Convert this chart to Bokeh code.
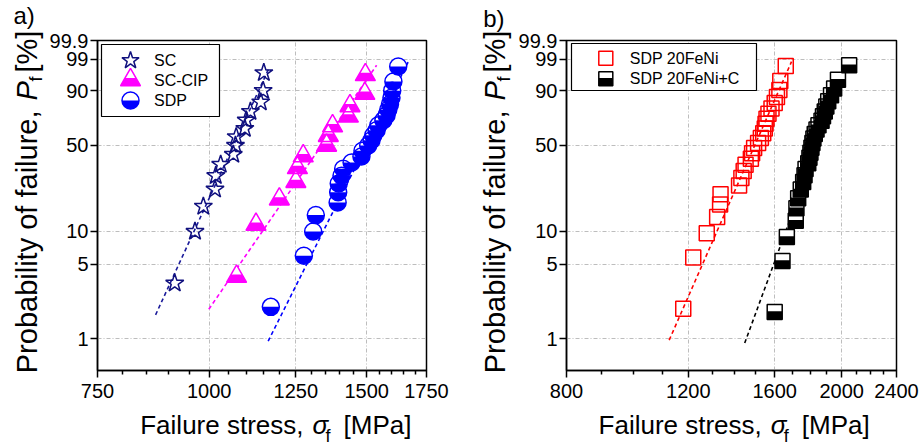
import numpy as np
from bokeh.plotting import figure
from bokeh.models import Range1d, LinearScale, FixedTicker, BasicTickFormatter, Label
from bokeh.layouts import row, column
from bokeh.embed import file_html
from bokeh.resources import INLINE
from bokeh.core.properties import value

FONT = "Liberation Sans"

# ---------------- data: panel a ----------------
sc_stress = [915, 964, 985, 1015, 1017, 1030, 1064, 1070, 1072, 1096, 1100, 1112, 1142, 1149, 1151]
sc_prob = [3.33, 10.0, 16.67, 23.33, 30.0, 36.67, 43.33, 50.0, 56.67, 63.33, 70.0, 76.67, 83.33, 90.0, 96.67]
cip_stress = [1073, 1128, 1198, 1250, 1255, 1274, 1353, 1359, 1374, 1431, 1437, 1493, 1495]
cip_prob = [3.85, 11.54, 19.23, 26.92, 34.62, 42.31, 50.0, 57.69, 65.38, 73.08, 80.77, 88.46, 96.15]
sdp_stress = [1172, 1276, 1307, 1316, 1392, 1394, 1396, 1406, 1412, 1443, 1480, 1484, 1506,
              1519, 1526, 1539, 1546, 1566, 1579, 1586, 1593, 1599, 1602, 1607, 1627]
sdp_prob = [2, 6, 10, 14, 18, 22, 26, 30, 34, 38, 42, 46, 50, 54, 58, 62, 66, 70, 74, 78, 82, 86, 90, 94, 98]
sc_fit_stress = [871, 1165]
sc_fit_prob = [1.68, 97.5]
cip_fit_stress = [999, 1539]
cip_fit_prob = [1.9, 98.2]
sdp_fit_stress = [1164, 1670]
sdp_fit_prob = [0.95, 98.7]
legend_a = ["SC", "SC-CIP", "SDP"]

# ---------------- data: panel b ----------------
fe_stress = [1180, 1220, 1276, 1321, 1334, 1336, 1421, 1432, 1443, 1452, 1478, 1484, 1494,
             1514, 1528, 1540, 1548, 1552, 1557, 1567, 1583, 1600, 1612, 1625, 1630, 1660]
fe_prob = [1.92, 5.77, 9.62, 13.46, 17.31, 21.15, 25.0, 28.85, 32.69, 36.54, 40.38, 44.23, 48.08,
           51.92, 55.77, 59.62, 63.46, 67.31, 71.15, 75.0, 78.85, 82.69, 86.54, 90.38, 94.23, 98.08]
fec_stress = [1600, 1642, 1666, 1716, 1720, 1730, 1745, 1759, 1767, 1773, 1789, 1796, 1802, 1808,
              1814, 1820, 1828, 1839, 1851, 1870, 1879, 1890, 1900, 1912, 1930, 1950, 1975, 2050]
fec_prob = [1.79, 5.36, 8.93, 12.5, 16.07, 19.64, 23.21, 26.79, 30.36, 33.93, 37.5, 41.07, 44.64, 48.21,
            51.79, 55.36, 58.93, 62.5, 66.07, 69.64, 73.21, 76.79, 80.36, 83.93, 87.5, 91.07, 94.64, 98.21]
fe_fit_stress = [1126, 1692]
fe_fit_prob = [0.97, 98.7]
fec_fit_stress = [1448, 2043]
fec_fit_prob = [0.91, 98.7]
legend_b = ["SDP 20FeNi", "SDP 20FeNi+C"]

# ---------------- axes ----------------
y_tick_values = [1, 5, 10, 50, 90, 99, 99.9]
y_tick_labels = ["1", "5", "10", "50", "90", "99", "99.9"]
xa_ticks = [750, 1000, 1250, 1500, 1750]
xa_minor = [800, 850, 900, 950, 1050, 1100, 1150, 1200, 1300, 1350, 1400, 1450, 1550, 1600, 1650, 1700]
xb_ticks = [800, 1200, 1600, 2000, 2400]
xb_minor = [900, 1000, 1100, 1300, 1400, 1500, 1700, 1800, 1900, 2100, 2200, 2300]


def W(p):
    return np.log(-np.log(1.0 - np.asarray(p, dtype=float) / 100.0))


Y0 = float(W(0.5))
Y1 = float(W(99.9))
FH = 330
PPU = FH / (Y1 - Y0)
TOTAL_H = 447
MAIN_TOP, MAIN_BOTTOM = 40, 37
XLAB_H = TOTAL_H - (MAIN_TOP + FH + MAIN_BOTTOM)
MID = 0.3465   # distance (in em) from the text-box centre down to the baseline

# panel geometry (left border, frame width, right border)
A_GEOM = (50, 329, 49)
B_GEOM = (51, 330, 27)
YLAB_A_W, YLAB_B_W = 46, 40


def panel(x_lo, x_hi, xticks, xminor, geom):
    bl, fw, br = geom
    p = figure(x_axis_type="log", x_range=Range1d(x_lo, x_hi), y_range=Range1d(Y0, Y1),
               frame_width=fw, frame_height=FH, min_border_left=bl, min_border_right=br,
               min_border_top=MAIN_TOP, min_border_bottom=MAIN_BOTTOM, toolbar_location=None,
               output_backend="svg", background_fill_color="white", border_fill_color="white")
    p.extra_x_ranges = {"px": Range1d(0, fw)}
    p.extra_y_ranges = {"px": Range1d(0, FH)}
    p.extra_x_scales = {"px": LinearScale()}
    p.extra_y_scales = {"px": LinearScale()}
    p.outline_line_color = "black"
    p.outline_line_width = 1.5
    p.outline_line_alpha = 1.0
    xa = p.xaxis[0]
    ya = p.yaxis[0]
    xa.ticker = FixedTicker(ticks=xticks, minor_ticks=xminor)
    xa.formatter = BasicTickFormatter(use_scientific=False)
    yt = [float(v) for v in W(y_tick_values)]
    ya.ticker = FixedTicker(ticks=yt, minor_ticks=[])
    ya.major_label_overrides = {t: lab for t, lab in zip(yt, y_tick_labels)}
    for ax in (xa, ya):
        ax.axis_line_width = 1.5
        ax.axis_line_color = "black"
        ax.major_tick_line_width = 1.5
        ax.major_tick_line_color = "black"
        ax.minor_tick_line_width = 1.5
        ax.minor_tick_line_color = "black"
        ax.major_tick_in = 0
        ax.major_tick_out = 7
        ax.minor_tick_in = 0
        ax.minor_tick_out = 4
        ax.major_label_text_font = FONT
        ax.major_label_text_font_size = "20px"
        ax.major_label_text_color = "black"
    ya.minor_tick_line_color = None
    xa.major_label_standoff = 6
    ya.major_label_standoff = 2
    for g in (p.xgrid[0], p.ygrid[0]):
        g.grid_line_color = "#bdbdbd"
        g.grid_line_dash = "4 2 1 2"
        g.grid_line_width = 1
    return p


def label_fig(w, h):
    # plain text strip; frame covers the whole figure, coordinates = pixels
    f = figure(width=w, height=h, x_range=Range1d(0, w), y_range=Range1d(0, h),
               min_border=0, toolbar_location=None, output_backend="svg",
               x_axis_location=None, y_axis_location=None,
               background_fill_color="white", border_fill_color="white")
    f.outline_line_color = None
    f.grid.visible = False
    return f


def xlabel_fig(geom, win_left):
    # strip below a panel, bordered like the panel so that the layouts align it identically;
    # x coordinates are window pixels over the panel frame
    bl, fw, br = geom
    x0 = win_left + bl
    f = figure(frame_width=fw, frame_height=XLAB_H, min_border_left=bl, min_border_right=br,
               min_border_top=0, min_border_bottom=0,
               x_range=Range1d(x0, x0 + fw), y_range=Range1d(0, XLAB_H),
               toolbar_location=None, output_backend="svg",
               x_axis_location=None, y_axis_location=None,
               background_fill_color="white", border_fill_color="white")
    f.outline_line_color = None
    f.grid.visible = False
    return f


def fit_line(p, xs, ps, color):
    p.line(xs, W(ps), line_color=color, line_width=1.6, line_dash="4 3")


def stars(p, x, y, color, size, **kw):
    p.scatter(x, y, marker="star", size=size, fill_color=None, line_color=color, line_width=1.5, **kw)


def half_tri(p, x, y, color, size, ppu, **kw):
    k = 0.55
    h = size / 2.0 * np.sqrt(3.0)
    off = (2.0 * h / 3.0) * (1 - k) / ppu
    y = np.asarray(y, dtype=float)
    p.scatter(x, y, marker="triangle", size=size, fill_color=color, line_color=None, **kw)
    p.scatter(x, y + off, marker="triangle", size=size * k, fill_color="white", line_color=None, **kw)
    p.scatter(x, y, marker="triangle", size=size, fill_color=None, line_color=color, line_width=1.5, **kw)


def half_circ(p, x, y, color, size, **kw):
    p.scatter(x, y, marker="circle", size=size, fill_color="white", line_color=None, **kw)
    p.wedge(x, y, radius=size / 2.0, radius_units="screen", start_angle=np.pi, end_angle=2 * np.pi,
            fill_color=color, line_color=None, **kw)
    p.scatter(x, y, marker="circle", size=size, fill_color=None, line_color=color, line_width=1.5, **kw)


def open_sq(p, x, y, color, size, **kw):
    p.scatter(x, y, marker="square", size=size, fill_color=None, line_color=color, line_width=1.5, **kw)


def half_sq(p, x, y, color, size, ppu, **kw):
    f = 0.55
    off = size * (1 - f) / 2.0 / ppu
    y = np.asarray(y, dtype=float)
    p.scatter(x, y, marker="square", size=size, fill_color="white", line_color=None, **kw)
    p.rect(x, y - off, width=size, height=size * f, width_units="screen", height_units="screen",
           fill_color=color, line_color=None, **kw)
    p.scatter(x, y, marker="square", size=size, fill_color=None, line_color=color, line_width=1.5, **kw)


def htext(p, text, x, baseline, size, style="normal", align="left"):
    # horizontal text whose baseline sits at `baseline` (y measured upward)
    p.add_layout(Label(x=x, y=baseline + MID * size, text=text, text_font=FONT,
                       text_font_size=f"{size}px", text_font_style=style, text_color="black",
                       text_align=align, text_baseline="middle"))


def vtext(p, text, baseline, y, size, style="normal", align="left"):
    # text rotated 90 deg (reading upward); its baseline is the vertical line x=`baseline`
    p.add_layout(Label(x=baseline - MID * size, y=y, text=text, text_font=FONT,
                       text_font_size=f"{size}px", text_font_style=style, text_color="black",
                       angle=np.pi / 2, text_align=align, text_baseline="middle"))


def x_label(f, xs, base):
    fs, sub = 26, 18
    htext(f, "Failure stress,", xs - 9, base, fs, align="right")
    htext(f, "σ", xs, base, fs, "italic")
    htext(f, "f", xs + 13, base - 8, sub)
    htext(f, "[MPa]", xs + 31, base, fs)


def y_label(f, base, ys):
    fs, sub = 29, 18
    vtext(f, "Probability of failure,", base, ys - 10, fs, align="right")
    vtext(f, "P", base, ys, fs, "italic")
    vtext(f, "f", base + 5, ys + 19, sub)
    vtext(f, "[%]", base, ys + 28, fs)


LEG = dict(x_range_name="px", y_range_name="px")

# ---------------- panel a ----------------
pa = panel(750, 1750, xa_ticks, xa_minor, A_GEOM)
fit_line(pa, sc_fit_stress, sc_fit_prob, "#1a1a9a")
fit_line(pa, cip_fit_stress, cip_fit_prob, "#ff00ff")
fit_line(pa, sdp_fit_stress, sdp_fit_prob, "#0000ff")
stars(pa, sc_stress, W(sc_prob), "#10107e", 19)
half_tri(pa, cip_stress, W(cip_prob), "#ff00ff", 20, PPU)
half_circ(pa, sdp_stress, W(sdp_prob), "#0000ff", 17)

pa.quad(left=[4], right=[122], bottom=[254], top=[326], fill_color="white",
        line_color="black", line_width=1.2, **LEG)
stars(pa, [33], [310], "#10107e", 18, **LEG)
half_tri(pa, [33], [290.5], "#ff00ff", 20, 1.0, **LEG)
half_circ(pa, [33], [270], "#0000ff", 17, **LEG)
pa.text(x=[56.5, 56.5, 56.5], y=[310, 290, 270], text=legend_a, text_font=value(FONT),
        text_font_size="16px", text_baseline="middle", text_color="black", **LEG)

# ---------------- panel b ----------------
pb = panel(800, 2400, xb_ticks, xb_minor, B_GEOM)
fit_line(pb, fe_fit_stress, fe_fit_prob, "#ff0000")
fit_line(pb, fec_fit_stress, fec_fit_prob, "#000000")
open_sq(pb, fe_stress, W(fe_prob), "#ff0000", 15)
half_sq(pb, fec_stress, W(fec_prob), "#000000", 15, PPU)

pb.quad(left=[5], right=[190], bottom=[280], top=[327], fill_color="white",
        line_color="black", line_width=1.2, **LEG)
open_sq(pb, [39.3], [312.3], "#ff0000", 14, **LEG)
half_sq(pb, [39.3], [291.7], "#000000", 14, 1.0, **LEG)
pb.text(x=[63.3, 63.3], y=[312.3, 291.7], text=legend_b, text_font=value(FONT),
        text_font_size="16px", text_baseline="middle", text_color="black", **LEG)

# ---------------- label strips ----------------
ya_fig = label_fig(YLAB_A_W, TOTAL_H)
y_label(ya_fig, 36.7, 347)
htext(ya_fig, "a)", 13, 423.5, 24)

yb_fig = label_fig(YLAB_B_W, TOTAL_H)
y_label(yb_fig, 29.3, 347)
htext(yb_fig, "b)", 7.7, 420.8, 24)

a_left = YLAB_A_W
b_left = YLAB_A_W + sum(A_GEOM) + YLAB_B_W
xa_fig = xlabel_fig(A_GEOM, a_left)
x_label(xa_fig, 311, 13.7)
xb_fig = xlabel_fig(B_GEOM, b_left)
x_label(xb_fig, 769.3, 13.7)

layout = row(ya_fig, column(pa, xa_fig), yb_fig, column(pb, xb_fig))
open("out.html", "w").write(file_html(layout, INLINE))
